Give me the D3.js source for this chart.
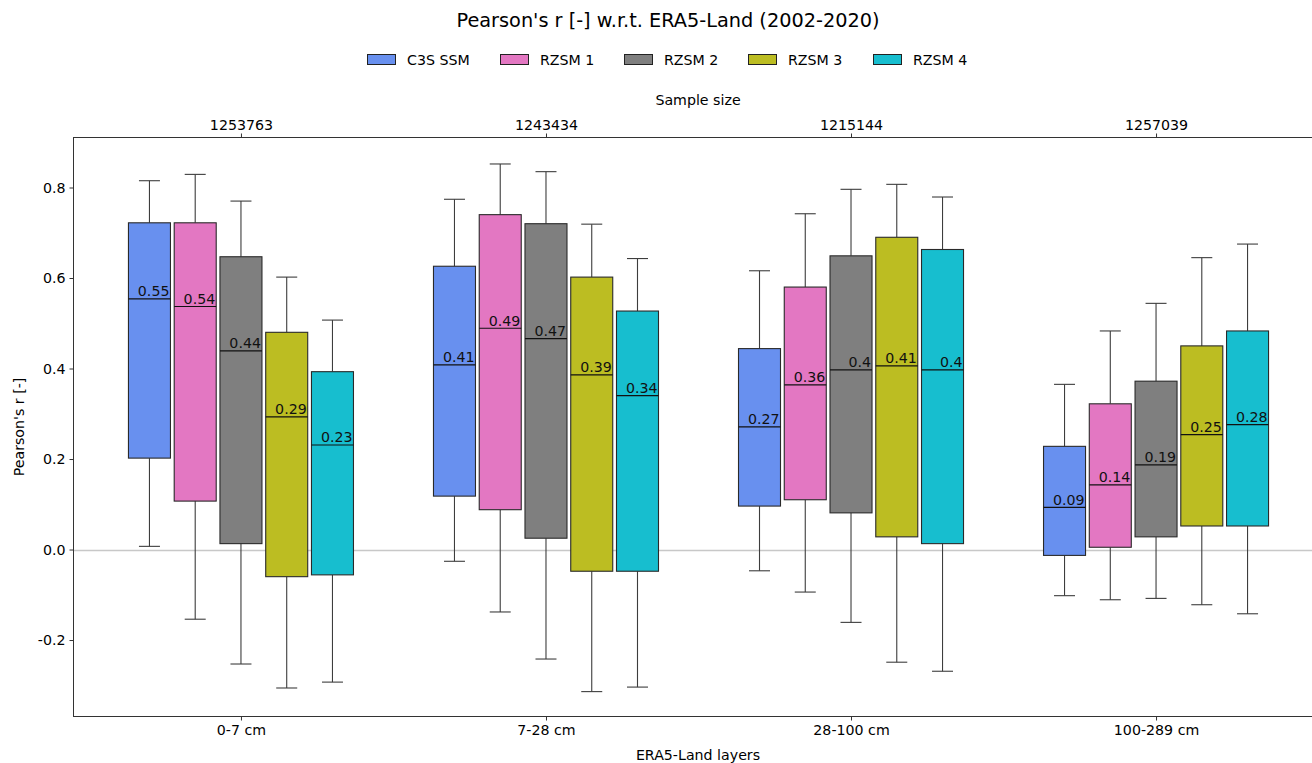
<!DOCTYPE html>
<html>
<head>
<meta charset="utf-8">
<script src="https://cdn.jsdelivr.net/npm/d3@7"></script>
<style>
  html, body { margin: 0; padding: 0; background: #fff; }
  svg { display: block; font-family: "DejaVu Sans", sans-serif; }
</style>
</head>
<body>
<svg id="chart" width="1312" height="763"></svg>
<script>
const categories = ["0-7 cm", "7-28 cm", "28-100 cm", "100-289 cm"];
const sampleSizes = ["1253763", "1243434", "1215144", "1257039"];
const seriesNames = ["C3S SSM", "RZSM 1", "RZSM 2", "RZSM 3", "RZSM 4"];
const seriesColors = ["#6890ef", "#e377c2", "#7f7f7f", "#bcbd22", "#17becf"];
// [series][category]
const whiskerHigh = [
  [0.815, 0.774, 0.616, 0.365],
  [0.829, 0.852, 0.742, 0.483],
  [0.770, 0.835, 0.796, 0.544],
  [0.602, 0.719, 0.807, 0.645],
  [0.507, 0.643, 0.779, 0.675]
];
const q3 = [
  [0.722, 0.626, 0.444, 0.228],
  [0.722, 0.740, 0.580, 0.322],
  [0.647, 0.720, 0.649, 0.372],
  [0.480, 0.602, 0.690, 0.450],
  [0.393, 0.527, 0.663, 0.483]
];
const median = [
  [0.554, 0.408, 0.271, 0.093],
  [0.537, 0.489, 0.364, 0.143],
  [0.439, 0.466, 0.397, 0.187],
  [0.293, 0.386, 0.406, 0.254],
  [0.231, 0.340, 0.397, 0.276]
];
const q1 = [
  [0.202, 0.118, 0.096, -0.013],
  [0.107, 0.088, 0.110, 0.005],
  [0.013, 0.025, 0.081, 0.028],
  [-0.060, -0.048, 0.028, 0.052],
  [-0.056, -0.048, 0.013, 0.052]
];
const whiskerLow = [
  [0.007, -0.026, -0.047, -0.102],
  [-0.154, -0.138, -0.094, -0.111],
  [-0.253, -0.242, -0.161, -0.108],
  [-0.306, -0.314, -0.249, -0.122],
  [-0.293, -0.304, -0.269, -0.142]
];
const yTicks = [-0.2, 0.0, 0.2, 0.4, 0.6, 0.8];

const svg = d3.select("#chart");
const L = 73.5, R = 1323.5, T = 137.5, B = 716.5;

const x = d3.scaleLinear().domain([-0.549, 3.549]).range([L, R]);
const y = d3.scaleLinear().domain([-0.369, 0.9105]).range([B, T]);
const offset = 0.15, boxW = 0.1377;

const fs = 14.2;

// Title
svg.append("text").attr("x", 668).attr("y", 27).attr("text-anchor", "middle")
  .attr("font-size", 19.3).attr("fill", "#000")
  .text("Pearson's r [-] w.r.t. ERA5-Land (2002-2020)");

// Legend
const legendX = [367, 500, 624, 748, 873];
seriesNames.forEach((n, i) => {
  svg.append("rect").attr("x", legendX[i] + 0.5).attr("y", 54.5).attr("width", 28).attr("height", 10)
    .attr("fill", seriesColors[i]).attr("stroke", "#222").attr("stroke-width", 1);
  svg.append("text").attr("x", legendX[i] + 40).attr("y", 65).attr("font-size", fs)
    .attr("fill", "#000").text(n);
});

// zero line
svg.append("line").attr("x1", L).attr("x2", R).attr("y1", Math.round(y(0)) + 0.5).attr("y2", Math.round(y(0)) + 0.5)
  .attr("stroke", "#c8c8c8").attr("stroke-width", 1.3);

// Boxes
const g = svg.append("g");
seriesNames.forEach((n, s) => {
  categories.forEach((c, ci) => {
    const cx = x(ci + (s - 2) * offset);
    const hw = (x(boxW) - x(0)) / 2;
    const capHw = hw / 2;
    const wc = "#3d3d3d";
    g.append("line").attr("x1", cx).attr("x2", cx).attr("y1", y(whiskerHigh[s][ci])).attr("y2", y(q3[s][ci]))
      .attr("stroke", wc).attr("stroke-width", 1.1);
    g.append("line").attr("x1", cx).attr("x2", cx).attr("y1", y(q1[s][ci])).attr("y2", y(whiskerLow[s][ci]))
      .attr("stroke", wc).attr("stroke-width", 1.1);
    g.append("line").attr("x1", cx - capHw).attr("x2", cx + capHw).attr("y1", y(whiskerHigh[s][ci])).attr("y2", y(whiskerHigh[s][ci]))
      .attr("stroke", wc).attr("stroke-width", 1.1);
    g.append("line").attr("x1", cx - capHw).attr("x2", cx + capHw).attr("y1", y(whiskerLow[s][ci])).attr("y2", y(whiskerLow[s][ci]))
      .attr("stroke", wc).attr("stroke-width", 1.1);
    g.append("rect").attr("x", cx - hw).attr("y", y(q3[s][ci])).attr("width", 2 * hw)
      .attr("height", y(q1[s][ci]) - y(q3[s][ci]))
      .attr("fill", seriesColors[s]).attr("stroke", "#2a2a2a").attr("stroke-width", 1.1);
    g.append("line").attr("x1", cx - hw).attr("x2", cx + hw).attr("y1", y(median[s][ci])).attr("y2", y(median[s][ci]))
      .attr("stroke", "#111").attr("stroke-width", 1.2);
    g.append("text").attr("x", cx + hw - 1).attr("y", y(median[s][ci]) - 2.5).attr("text-anchor", "end")
      .attr("font-size", fs).attr("fill", "#111").text(String(+median[s][ci].toFixed(2)));
  });
});

// Axes
const bottomAxis = d3.axisBottom(x).tickValues([0, 1, 2, 3]).tickFormat(i => categories[i]).tickSize(4).tickPadding(4);
const topAxis = d3.axisTop(x).tickValues([0, 1, 2, 3]).tickFormat(i => sampleSizes[i]).tickSize(4).tickPadding(4);
const leftAxis = d3.axisLeft(y).tickValues(yTicks).tickFormat(d => d.toFixed(1)).tickSize(4).tickPadding(4);

function styleAxis(sel) {
  sel.selectAll("text").attr("font-size", fs).attr("fill", "#000").attr("font-family", "DejaVu Sans, sans-serif");
  sel.selectAll("line").attr("stroke", "#333");
  sel.select(".domain").remove();
}
svg.append("g").attr("transform", `translate(0,${B})`).call(bottomAxis).call(styleAxis);
svg.append("g").attr("transform", `translate(0,${T})`).call(topAxis).call(styleAxis);
svg.append("g").attr("transform", `translate(${L},0)`).call(leftAxis).call(styleAxis);

// Frame
svg.append("rect").attr("x", L).attr("y", T).attr("width", R - L).attr("height", B - T)
  .attr("fill", "none").attr("stroke", "#333").attr("stroke-width", 1);

// Axis labels
svg.append("text").attr("x", 698).attr("y", 105).attr("text-anchor", "middle").attr("font-size", fs).text("Sample size");
svg.append("text").attr("x", 698).attr("y", 760).attr("text-anchor", "middle").attr("font-size", fs).text("ERA5-Land layers");
svg.append("text").attr("transform", `translate(24,${(T + B) / 2}) rotate(-90)`).attr("text-anchor", "middle")
  .attr("font-size", fs).text("Pearson's r [-]");
</script>
</body>
</html>
